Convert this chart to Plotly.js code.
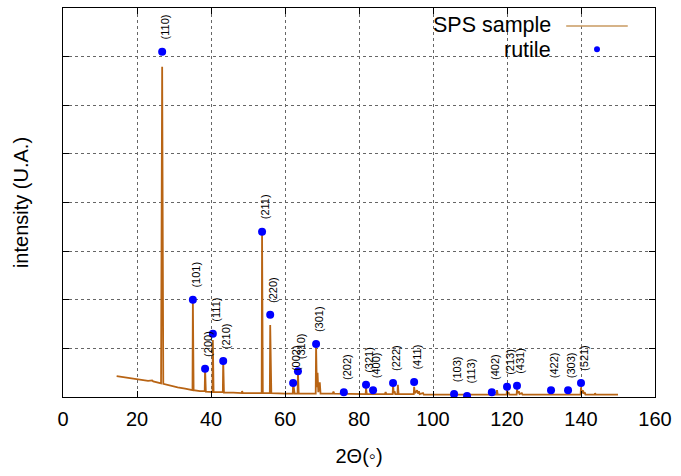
<!DOCTYPE html>
<html>
<head>
<meta charset="utf-8">
<script src="https://cdn.plot.ly/plotly-3.0.1.min.js"></script>
<style>html,body{margin:0;padding:0;background:#fff;}#chart{width:681px;height:476px;}</style>
</head>
<body>
<div id="chart"></div>
<script>
// Measured XRD pattern (SPS sample): 2-theta (deg) and intensity (arb. units)
const sampleTwoTheta = [14.5, 17, 20, 23, 24.1, 24.4, 26.5, 26.8, 27.1, 29, 31, 33, 35.0, 35.1, 35.3, 37, 38.3, 38.4, 38.6,
  40.4, 40.5, 40.7, 43.2, 43.3, 43.5, 46, 48.3, 48.4, 48.6, 53.7, 53.8, 54.0, 55.9, 56.0, 56.15, 56.3,
  60, 62.1, 62.2, 62.4, 62.6, 63.4, 63.5, 63.7, 68.3, 68.4, 68.6, 68.8, 69.0, 69.4, 69.6, 72.9, 73.1, 73.3,
  76, 81.8, 81.9, 82.1, 83.7, 83.8, 84.0, 87.0, 87.2, 87.4, 89.1, 89.2, 89.4, 89.6, 89.8, 90.4, 90.5, 90.7,
  94.8, 94.9, 95.1, 95.7, 95.9, 96.2, 96.4, 97.3, 97.5, 105, 110, 117.2, 117.3, 117.5, 119.9, 120.0, 120.2, 120.4, 120.6,
  122.6, 122.7, 122.9, 123.2, 123.4, 124.0, 124.2, 131.8, 131.9, 132.1, 136.4, 136.5, 136.7, 139.9, 140.0, 140.2, 140.5, 140.7,
  141.0, 141.2, 143.7, 143.8, 144.0, 150];
const sampleIntensity = [0.43, 0.40, 0.36, 0.33, 0.34, 0.32, 0.28, 6.79, 0.27, 0.23, 0.20, 0.17, 0.14, 2.00, 0.14, 0.12, 0.12, 0.60, 0.11,
  0.10, 1.17, 0.10, 0.10, 0.76, 0.09, 0.09, 0.08, 0.12, 0.08, 0.08, 3.40, 0.08, 0.08, 1.48, 0.72, 0.08,
  0.07, 0.07, 0.29, 0.20, 0.07, 0.07, 0.51, 0.07, 0.07, 1.07, 0.20, 0.50, 0.10, 0.30, 0.07, 0.07, 0.11, 0.07,
  0.07, 0.06, 0.19, 0.06, 0.06, 0.09, 0.06, 0.06, 0.10, 0.06, 0.06, 0.25, 0.08, 0.12, 0.06, 0.06, 0.25, 0.06,
  0.06, 0.21, 0.08, 0.14, 0.07, 0.12, 0.06, 0.08, 0.05, 0.05, 0.05, 0.05, 0.14, 0.05, 0.05, 0.16, 0.07, 0.10, 0.05,
  0.05, 0.16, 0.08, 0.12, 0.06, 0.08, 0.05, 0.05, 0.09, 0.05, 0.05, 0.10, 0.05, 0.05, 0.20, 0.08, 0.14, 0.07,
  0.10, 0.05, 0.05, 0.08, 0.05, 0.05];

// Rutile reference reflections
const rutileTwoTheta = [26.8, 35.1, 38.4, 40.5, 43.3, 53.8, 56.0, 62.2, 63.5, 68.4, 75.9, 81.9, 83.8, 89.2, 94.9,
  105.7, 109.2, 115.9, 120.0, 122.7, 131.9, 136.5, 140.0];
const rutileIntensity = [7.10, 2.00, 0.58, 1.30, 0.74, 3.40, 1.69, 0.29, 0.53, 1.09, 0.10, 0.25, 0.14, 0.29, 0.31,
  0.06, 0.02, 0.10, 0.21, 0.23, 0.14, 0.14, 0.29];
const rutileHKL = ['(110)', '(101)', '(200)', '(111)', '(210)', '(211)', '(220)', '(002)', '(310)', '(301)', '(202)',
  '(321)', '(400)', '(222)', '(411)', '(103)', '(113)', '(402)', '(213)', '(431)', '(422)', '(303)', '(521)'];

const xTickVals = [0, 20, 40, 60, 80, 100, 120, 140, 160];
const legendNames = ['SPS sample', 'rutile'];

const FONT = 'Liberation Sans, Arial, Helvetica, sans-serif';
const lineColor = '#b86414';

const traces = [
  {x: sampleTwoTheta, y: sampleIntensity, type: 'scatter', mode: 'lines', name: legendNames[0],
   line: {color: lineColor, width: 1.8}, showlegend: false},
  {x: rutileTwoTheta, y: rutileIntensity, type: 'scatter', mode: 'markers', name: legendNames[1],
   marker: {color: '#0000ff', size: 8}, showlegend: false}
];

const annotations = rutileHKL.map((t, i) => ({
  x: rutileTwoTheta[i], y: rutileIntensity[i], xref: 'x', yref: 'y', text: t, textangle: -90,
  showarrow: false, xanchor: 'center', yanchor: 'bottom', xshift: 3, yshift: 10,
  font: {family: FONT, size: 11, color: '#000'}
}));
annotations.push({xref: 'paper', yref: 'paper', x: 0.826, y: 0.956, text: legendNames[0], showarrow: false,
  xanchor: 'right', yanchor: 'middle', borderpad: 0, font: {family: FONT, size: 21.5, color: '#000'}});
annotations.push({xref: 'paper', yref: 'paper', x: 0.826, y: 0.893, text: legendNames[1], showarrow: false,
  xanchor: 'right', yanchor: 'middle', borderpad: 0, font: {family: FONT, size: 21.5, color: '#000'}});

const shapes = [
  {type: 'line', xref: 'paper', yref: 'paper', x0: 0.850, x1: 0.954, y0: 0.954, y1: 0.954,
   line: {color: '#c99a60', width: 1.5}},
  {type: 'circle', xref: 'paper', yref: 'paper', x0: 0.8970, x1: 0.9071, y0: 0.8863, y1: 0.9017,
   fillcolor: '#0000ff', line: {color: '#0000ff', width: 0}}
];

const layout = {
  width: 681, height: 476,
  margin: {l: 63, r: 26, t: 8, b: 79},
  paper_bgcolor: '#fff', plot_bgcolor: '#fff',
  font: {family: FONT, color: '#000'},
  showlegend: false,
  xaxis: {
    range: [0, 160], tickvals: xTickVals, ticktext: xTickVals.map(String),
    ticks: 'inside', ticklen: 6, tickcolor: '#000', mirror: 'ticks', showline: true, linecolor: '#000', linewidth: 1.2,
    showgrid: true, gridcolor: '#666', griddash: 'dot', gridwidth: 1, zeroline: false,
    ticklabelstandoff: 4,
    tickfont: {family: FONT, size: 20, color: '#000'},
    title: {text: '2Θ(◦)', font: {family: FONT, size: 20, color: '#000'}, standoff: 19}
  },
  yaxis: {
    range: [0, 8], dtick: 1, tick0: 0, showticklabels: false,
    ticks: 'inside', ticklen: 6, tickcolor: '#000', mirror: 'ticks', showline: true, linecolor: '#000', linewidth: 1.2,
    showgrid: true, gridcolor: '#666', griddash: 'dot', gridwidth: 1, zeroline: false,
    title: {text: 'intensity (U.A.)', font: {family: FONT, size: 20, color: '#000'}, standoff: 27}
  },
  annotations: annotations,
  shapes: shapes
};

Plotly.newPlot('chart', traces, layout, {displayModeBar: false, staticPlot: true});
</script>
</body>
</html>
